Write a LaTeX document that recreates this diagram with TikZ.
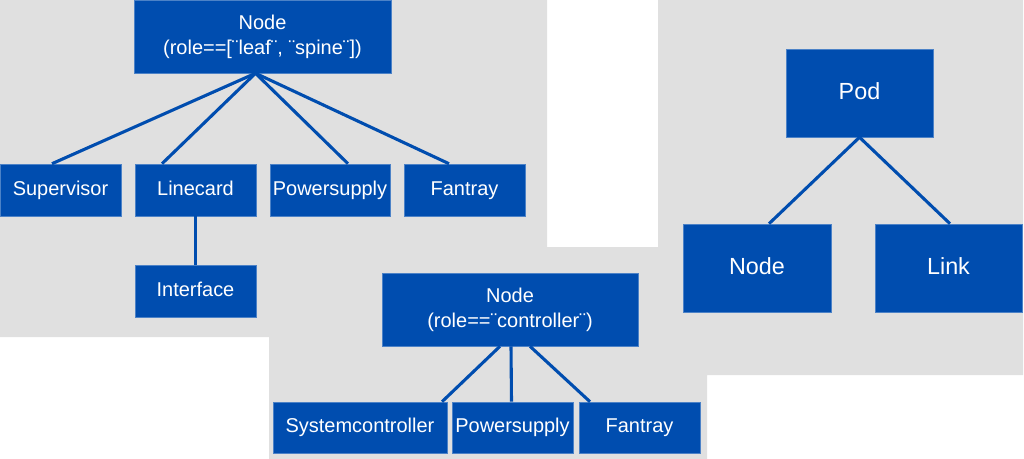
\documentclass[tikz,border=0pt]{standalone}
\usepackage{fontspec}
\setmainfont{Liberation Sans}
\usetikzlibrary{calc}
\definecolor{boxblue}{RGB}{0,77,175}
\definecolor{bggray}{RGB}{224,224,224}
\begin{document}
\begin{tikzpicture}[x=0.025cm,y=-0.025cm,
    box/.style={fill=boxblue,draw=boxblue!70!white,line width=0.4pt,text=white,inner sep=0pt,align=center,
      font=\fontsize{14.2}{17.8}\selectfont},
    onebox/.style={box,text height=10.2pt,text depth=2.8pt},
    bigbox/.style={box,font=\fontsize{16.6}{20}\selectfont,text height=11.9pt,text depth=2.8pt},
    link/.style={draw=boxblue,line width=2.2pt}]
      \useasboundingbox (0,0) rectangle (1024,459);
      \fill[bggray] (0,0) -- (547,0) -- (547,247) -- (658,247) -- (658,0) -- (1023,0) -- (1023,375)
        -- (707,375) -- (707,459) -- (269,459) -- (269,337) -- (0,337) -- cycle;
      % leaf / spine
      \node[box,minimum width=257*0.025cm,minimum height=73*0.025cm] (root) at (262.5,36.5) {Node\\(role==[¨leaf¨, ¨spine¨])};
      \node[onebox,minimum width=121*0.025cm,minimum height=52*0.025cm] (sup) at (60.5,190) {Supervisor};
      \node[onebox,minimum width=121*0.025cm,minimum height=52*0.025cm] (lcard) at (195.5,190) {Linecard};
      \node[onebox,minimum width=120*0.025cm,minimum height=52*0.025cm] (psu) at (330,190) {Powersupply};
      \node[onebox,minimum width=121*0.025cm,minimum height=52*0.025cm] (fan) at (464.5,190) {Fantray};
      \node[onebox,minimum width=121*0.025cm,minimum height=52*0.025cm] (iface) at (195.5,291) {Interface};
      \draw[link] ($(root.south)+(-7,0)$) -- ($(sup.north)+(-8.5,0)$);
      \draw[link] ($(root.south)+(-7,0)$) -- ($(lcard.north)+(-33.5,0)$);
      \draw[link] ($(root.south)+(-7,0)$) -- ($(psu.north)+(18,0)$);
      \draw[link] ($(root.south)+(-7,0)$) -- ($(fan.north)+(-15.5,0)$);
      \draw[link] (lcard.south) -- (iface.north);
      % controller
      \node[box,minimum width=256*0.025cm,minimum height=73*0.025cm] (ctrl) at (510,309.5) {Node\\(role==¨controller¨)};
      \node[onebox,minimum width=174*0.025cm,minimum height=51*0.025cm] (sysc) at (360,427.5) {Systemcontroller};
      \node[onebox,minimum width=121*0.025cm,minimum height=51*0.025cm] (cpsu) at (512.5,427.5) {Powersupply};
      \node[onebox,minimum width=121*0.025cm,minimum height=51*0.025cm] (cfan) at (639.5,427.5) {Fantray};
      \draw[link] ($(ctrl.south)+(-10,0)$) -- ($(sysc.north)+(82,0)$);
      \draw[link] ($(ctrl.south)+(1,0)$) -- ($(cpsu.north)+(-1,0)$);
      \draw[link] ($(ctrl.south)+(20,0)$) -- ($(cfan.north)+(-49.5,0)$);
      % pod
      \node[bigbox,minimum width=147*0.025cm,minimum height=88*0.025cm] (pod) at (859.5,93) {Pod};
      \node[bigbox,minimum width=148*0.025cm,minimum height=88*0.025cm] (pnode) at (757,268) {Node};
      \node[bigbox,minimum width=147*0.025cm,minimum height=88*0.025cm] (plink) at (948.5,268) {Link};
      \draw[link] (pod.south) -- ($(pnode.north)+(12,0)$);
      \draw[link] (pod.south) -- ($(plink.north)+(1.5,0)$);
    \end{tikzpicture}
\end{document}
